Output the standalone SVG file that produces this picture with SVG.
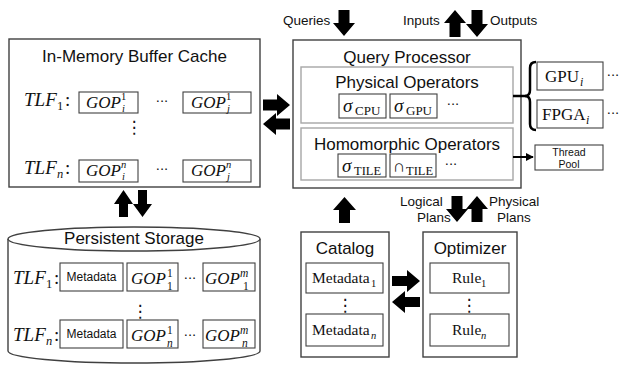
<svg xmlns="http://www.w3.org/2000/svg" width="622" height="365" viewBox="0 0 622 365">
<style>
.box{fill:#fff;stroke:#404040;stroke-width:1.4}
.inner{fill:#fff;stroke:#a6a6a6;stroke-width:1.4}
.cell{fill:#fff;stroke:#404040;stroke-width:1.1}
.t{font-family:"Liberation Sans",Arial,sans-serif;fill:#111}
.title{font-size:17px;text-anchor:middle}
.lbl{font-size:13.5px}
.mi{font-family:"Liberation Serif","DejaVu Serif",serif;font-style:italic;fill:#111}
.mr{font-family:"Liberation Serif","DejaVu Serif",serif;fill:#111}
.dots{font-family:"DejaVu Sans",sans-serif;fill:#111;text-anchor:middle}
.arr{fill:#000;stroke:none}
.ln{fill:none;stroke:#000;stroke-width:2.5}
</style>
<defs>
<marker id="ah" viewBox="0 0 10 10" refX="9" refY="5" markerWidth="4" markerHeight="4" orient="auto"><path d="M0,0L10,5L0,10z" fill="#000"/></marker>
</defs>

<g id="cache">
<rect class="box" x="9" y="39" width="251" height="148"/>
<text class="t title" x="134.5" y="62">In-Memory Buffer Cache</text>
<text class="mi" x="24" y="106" font-size="19">TLF</text><text class="mr" x="57" y="110" font-size="12.5">1</text><text class="mr" x="65" y="106" font-size="19">:</text>
<rect class="cell" x="79" y="92" width="59" height="21"/>
<text class="mi" x="86" y="108" font-size="17">GOP</text><text class="mr" x="121" y="100" font-size="10.5">1</text><text class="mi" x="122" y="112" font-size="10.5">i</text>
<text class="dots" x="162" y="106" font-size="13">···</text>
<rect class="cell" x="183" y="92" width="68" height="21"/>
<text class="mi" x="191" y="108" font-size="17">GOP</text><text class="mr" x="226" y="100" font-size="10.5">1</text><text class="mi" x="227" y="112" font-size="10.5">j</text>
<text class="dots" x="134" y="133" font-size="17">⋮</text>
<text class="mi" x="24" y="174" font-size="19">TLF</text><text class="mi" x="57" y="178" font-size="12.5">n</text><text class="mr" x="65" y="174" font-size="19">:</text>
<rect class="cell" x="79" y="160" width="59" height="22"/>
<text class="mi" x="86" y="176" font-size="17">GOP</text><text class="mi" x="121" y="168" font-size="10.5">n</text><text class="mi" x="122" y="180" font-size="10.5">i</text>
<text class="dots" x="162" y="174" font-size="13">···</text>
<rect class="cell" x="183" y="160" width="68" height="22"/>
<text class="mi" x="191" y="176" font-size="17">GOP</text><text class="mi" x="226" y="168" font-size="10.5">n</text><text class="mi" x="227" y="180" font-size="10.5">j</text>
</g>

<g id="storage">
<path class="box" d="M8,239 L8,351 A126,12 0 0 0 260,351 L260,239"/>
<ellipse class="box" cx="134" cy="239" rx="126" ry="12"/>
<text class="t title" x="134" y="244">Persistent Storage</text>
<text class="mi" x="13" y="284" font-size="19">TLF</text><text class="mr" x="46" y="288" font-size="12.5">1</text><text class="mr" x="54" y="284" font-size="19">:</text>
<rect class="cell" x="60" y="263" width="63" height="28"/>
<text class="t" x="91.5" y="281" font-size="12" text-anchor="middle">Metadata</text>
<rect class="cell" x="127" y="263" width="51" height="28"/>
<text class="mi" x="131" y="284" font-size="17">GOP</text><text class="mr" x="167" y="277" font-size="11.5">1</text><text class="mr" x="167" y="290" font-size="11.5">1</text>
<text class="dots" x="190" y="283" font-size="13">···</text>
<rect class="cell" x="203" y="263" width="52" height="28"/>
<text class="mi" x="205" y="284" font-size="17">GOP</text><text class="mi" x="240" y="277" font-size="11.5">m</text><text class="mr" x="243" y="290" font-size="11.5">1</text>
<text class="dots" x="140" y="317" font-size="17">⋮</text>
<text class="mi" x="13" y="341" font-size="19">TLF</text><text class="mi" x="46" y="345" font-size="12.5">n</text><text class="mr" x="54" y="341" font-size="19">:</text>
<rect class="cell" x="60" y="320" width="63" height="28"/>
<text class="t" x="91.5" y="338" font-size="12" text-anchor="middle">Metadata</text>
<rect class="cell" x="127" y="320" width="51" height="28"/>
<text class="mi" x="131" y="341" font-size="17">GOP</text><text class="mr" x="167" y="334" font-size="11.5">1</text><text class="mi" x="167" y="347" font-size="11.5">n</text>
<text class="dots" x="190" y="340" font-size="13">···</text>
<rect class="cell" x="203" y="320" width="52" height="28"/>
<text class="mi" x="205" y="341" font-size="17">GOP</text><text class="mi" x="240" y="334" font-size="11.5">m</text><text class="mi" x="242" y="347" font-size="11.5">n</text>
</g>

<g id="query-processor">
<rect class="box" x="293" y="40" width="228" height="148"/>
<text class="t title" x="407" y="63">Query Processor</text>
<rect class="inner" x="301" y="67" width="212" height="56"/>
<text class="t title" x="407" y="88">Physical Operators</text>
<rect class="cell" x="339" y="94" width="47" height="24"/>
<text class="mi" x="343" y="112" font-size="19">σ</text><text class="mr" x="355" y="115" font-size="13">CPU</text>
<rect class="cell" x="390" y="94" width="47" height="24"/>
<text class="mi" x="394" y="112" font-size="19">σ</text><text class="mr" x="406" y="115" font-size="13">GPU</text>
<text class="dots" x="453" y="109" font-size="13">···</text>
<rect class="inner" x="301" y="128" width="212" height="52"/>
<text class="t title" x="407" y="150">Homomorphic Operators</text>
<rect class="cell" x="338" y="154" width="48" height="23"/>
<text class="mi" x="342" y="172" font-size="19">σ</text><text class="mr" x="354" y="175" font-size="12.5">TILE</text>
<rect class="cell" x="390" y="154" width="46" height="23"/>
<text class="mr" x="393" y="172" font-size="17" font-family="DejaVu Serif">∩</text><text class="mr" x="406" y="175" font-size="12.5">TILE</text>
<text class="dots" x="451" y="169" font-size="13">···</text>
</g>

<g id="gpu">
<rect class="cell" x="537" y="62" width="66" height="28"/>
<text class="mr" x="545" y="82" font-size="17">GPU</text><text class="mi" x="580" y="86" font-size="12">i</text>
<text class="dots" x="613" y="80" font-size="13">···</text>
</g>
<g id="fpga">
<rect class="cell" x="537" y="100" width="66" height="28"/>
<text class="mr" x="542" y="120" font-size="17">FPGA</text><text class="mi" x="586" y="124" font-size="12">i</text>
<text class="dots" x="613" y="118" font-size="13">···</text>
</g>
<g id="thread-pool">
<rect class="cell" x="535" y="145" width="68" height="25"/>
<text class="t" x="569" y="156" font-size="10.5" text-anchor="middle">Thread</text>
<text class="t" x="569" y="168" font-size="10.5" text-anchor="middle">Pool</text>
</g>

<g id="catalog">
<rect class="box" x="301" y="232" width="88" height="125"/>
<text class="t title" x="345" y="254">Catalog</text>
<rect class="cell" x="306" y="263" width="77" height="30"/>
<text class="mr" x="312" y="283" font-size="15.5">Metadata</text><text class="mr" x="371" y="287" font-size="10.5">1</text>
<text class="dots" x="345" y="311" font-size="17">⋮</text>
<rect class="cell" x="306" y="314" width="77" height="32"/>
<text class="mr" x="312" y="335" font-size="15.5">Metadata</text><text class="mi" x="371" y="339" font-size="10.5">n</text>
</g>

<g id="optimizer">
<rect class="box" x="423" y="232" width="94" height="125"/>
<text class="t title" x="470" y="254">Optimizer</text>
<rect class="cell" x="430" y="263" width="79" height="30"/>
<text class="mr" x="452" y="283" font-size="15.5">Rule</text><text class="mr" x="481" y="287" font-size="10.5">1</text>
<text class="dots" x="469" y="311" font-size="17">⋮</text>
<rect class="cell" x="430" y="314" width="79" height="32"/>
<text class="mr" x="452" y="335" font-size="15.5">Rule</text><text class="mi" x="481" y="339" font-size="10.5">n</text>
</g>

<g id="connectors">
<text class="t lbl" x="283" y="25">Queries</text>
<polygon class="arr" points="338.5,10 349.5,10 349.5,23 355,23 344,36 333,23 338.5,23"/>
<text class="t lbl" x="403" y="25">Inputs</text>
<polygon class="arr" points="455,10 466,23 460.5,23 460.5,37 449.5,37 449.5,23 444,23"/>
<polygon class="arr" points="471.5,10 482.5,10 482.5,24 488,24 477,37 466,24 471.5,24"/>
<text class="t lbl" x="490" y="25">Outputs</text>
<polygon class="arr" points="263,99.5 277,99.5 277,94 290,105 277,116 277,110.5 263,110.5"/>
<polygon class="arr" points="290,118.5 276,118.5 276,113 263,124 276,135 276,129.5 290,129.5"/>
<polygon class="arr" points="123.5,190 133,204 128,204 128,217 119,217 119,204 114,204"/>
<polygon class="arr" points="138,190 147,190 147,204 152,204 142.5,217 133,204 138,204"/>
<polygon class="arr" points="344.5,197 356,210 350,210 350,223 339,223 339,210 333,210"/>
<text class="t lbl" x="400" y="206">Logical</text>
<text class="t lbl" x="417" y="222">Plans</text>
<polygon class="arr" points="451.5,196 462.5,196 462.5,209 468,209 457,222 446,209 451.5,209"/>
<polygon class="arr" points="477,196 488,209 482.5,209 482.5,222 471.5,222 471.5,209 466,209"/>
<text class="t lbl" x="489" y="206">Physical</text>
<text class="t lbl" x="497" y="222">Plans</text>
<polygon class="arr" points="392,276 407,276 407,270 420,281 407,292 407,286 392,286"/>
<polygon class="arr" points="420,297 405,297 405,291 392,302 405,313 405,307 420,307"/>
<line class="ln" x1="513" y1="96" x2="527" y2="96"/>
<path class="ln" d="M536,62 Q530,62 530,68 L530,90 Q530,96 525,96 Q530,96 530,102 L530,124 Q530,130 536,130"/>
<line x1="513" y1="157" x2="533" y2="157" stroke="#000" stroke-width="2" marker-end="url(#ah)"/>
</g>
</svg>
